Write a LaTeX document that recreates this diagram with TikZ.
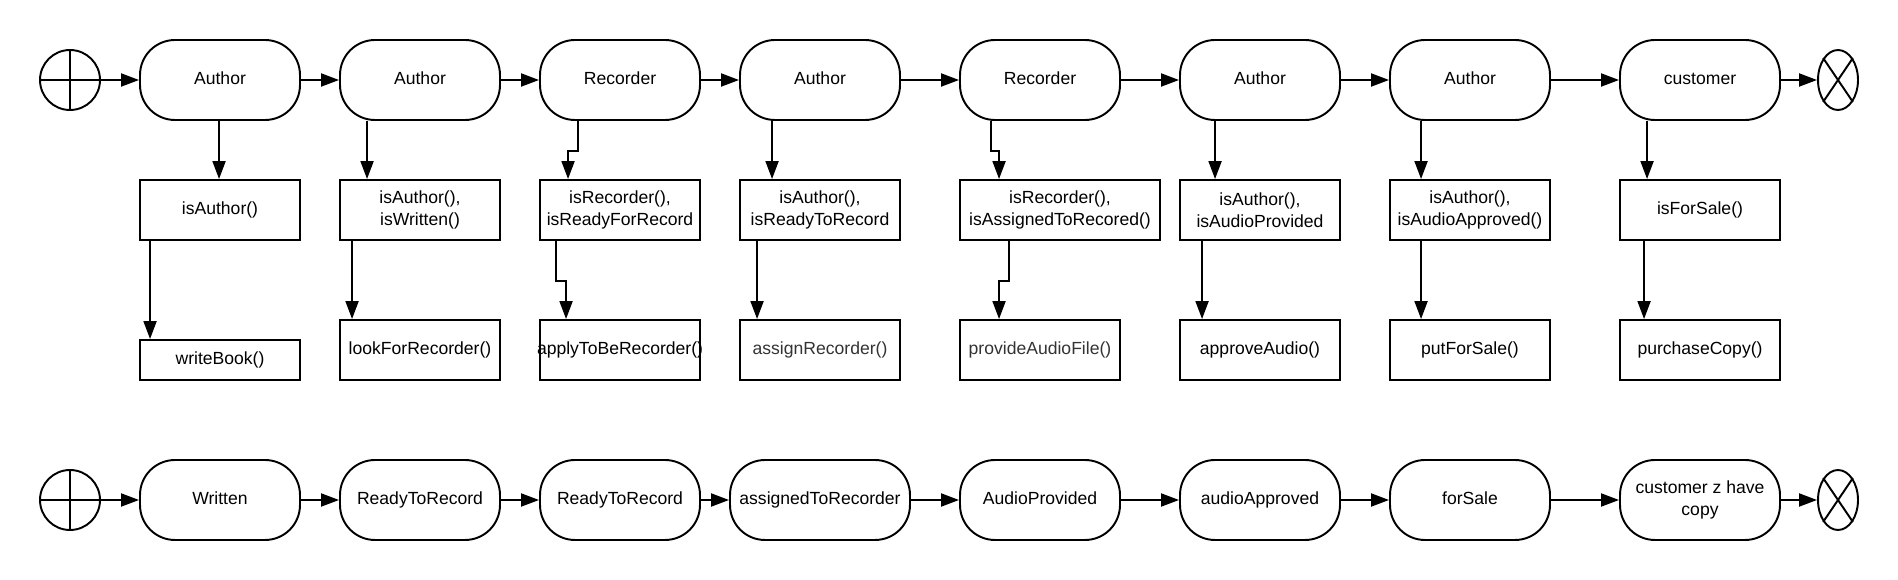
\documentclass[tikz,border=0pt]{standalone}
\usepackage{fontspec}
\setmainfont{Liberation Sans}
\usepackage{tikz}
\usetikzlibrary{shapes.geometric, arrows.meta, calc}

\begin{document}
\begin{tikzpicture}[x=0.02cm, y=-0.02cm, line width=1.1pt,
    font=\fontsize{10}{12.3}\selectfont,
    state/.style={draw, rounded corners=0.7cm, minimum width=3.2cm, minimum height=1.6cm, inner sep=1pt, align=center, text height=0.75em, text depth=0.25em},
    check/.style={draw, minimum width=3.2cm, minimum height=1.2cm, inner sep=1pt, align=center, text height=0.75em, text depth=0.25em},
    twolines/.style={text height=, text depth=},
    startmark/.style={draw, circle, minimum size=1.2cm, inner sep=0pt},
    endmark/.style={draw, ellipse, minimum width=0.8cm, minimum height=1.2cm, inner sep=0pt},
    flow/.style={-{Triangle[length=0.36cm, width=0.26cm]}}]
    \useasboundingbox (0,0) rectangle (1898,580);

    % who acts
    \node[startmark] (st) at (70,80) {};
    \foreach \i/\x/\t in {1/220/Author,2/420/Author,3/620/Recorder,4/820/Author,5/1040/Recorder,6/1260/Author,7/1470/Author,8/1700/customer} {
        \node[state] (s\i) at (\x,80) {\t};
    }
    \node[endmark] (en) at (1838,80) {};

    % checks
    \node[check] (c1) at (220,210) {isAuthor()};
    \node[check, twolines] (c2) at (420,210) {isAuthor(),\\isWritten()};
    \node[check, twolines] (c3) at (620,210) {isRecorder(),\\isReadyForRecord};
    \node[check, twolines] (c4) at (820,210) {isAuthor(),\\isReadyToRecord};
    \node[check, twolines, minimum width=4cm] (c5) at (1060,210) {isRecorder(),\\isAssignedToRecored()};
    \node[check, twolines] (c6) at (1260,210) {isAuthor(),\\isAudioProvided};
    \node[check, twolines] (c7) at (1470,210) {isAuthor(),\\isAudioApproved()};
    \node[check] (c8) at (1700,210) {isForSale()};

    % actions
    \node[check, minimum height=0.8cm] (f1) at (220,360) {writeBook()};
    \node[check] (f2) at (420,350) {lookForRecorder()};
    \node[check] (f3) at (620,350) {\makebox[0pt]{applyToBeRecorder()}};
    \node[check, text=black!80] (f4) at (820,350) {assignRecorder()};
    \node[check, text=black!80] (f5) at (1040,350) {provideAudioFile()};
    \node[check] (f6) at (1260,350) {approveAudio()};
    \node[check] (f7) at (1470,350) {putForSale()};
    \node[check] (f8) at (1700,350) {purchaseCopy()};

    % states of the book
    \node[startmark] (bst) at (70,500) {};
    \foreach \i/\x/\t in {1/220/Written,2/420/ReadyToRecord,3/620/ReadyToRecord,5/1040/AudioProvided,6/1260/audioApproved,7/1470/forSale} {
        \node[state] (b\i) at (\x,500) {\t};
    }
    \node[state, minimum width=3.6cm] (b4) at (820,500) {assignedToRecorder};
    \node[state, twolines] (b8) at (1700,500) {customer z have\\copy};
    \node[endmark] (ben) at (1838,500) {};

    \draw (st.north) -- (st.south) (st.west) -- (st.east);
    \draw (bst.north) -- (bst.south) (bst.west) -- (bst.east);
    \draw (en.north west) -- (en.south east) (en.north east) -- (en.south west);
    \draw (ben.north west) -- (ben.south east) (ben.north east) -- (ben.south west);

    \foreach \a/\b in {st/s1,s1/s2,s2/s3,s3/s4,s4/s5,s5/s6,s6/s7,s7/s8,s8/en,bst/b1,b1/b2,b2/b3,b3/b4,b4/b5,b5/b6,b6/b7,b7/b8,b8/ben} {
        \draw[flow] (\a) -- (\b);
    }

    % down the columns
    \foreach \i/\p/\q/\r/\s in {1/80/80/11/11,2/28/28/13/13,3/39/29/17/27,4/33/33/18/18,5/32/40/50/40,6/36/36/23/23,7/32/32/32/32,8/28/28/25/25} {
        \draw[flow] ($(s\i.south west)+(\p,0)$) -- ++(0,30) -| ($(c\i.north west)+(\q,0)$);
        \draw[flow] ($(c\i.south west)+(\r,0)$) -- ++(0,40) -| ($(f\i.north west)+(\s,0)$);
    }
\end{tikzpicture}
\end{document}
